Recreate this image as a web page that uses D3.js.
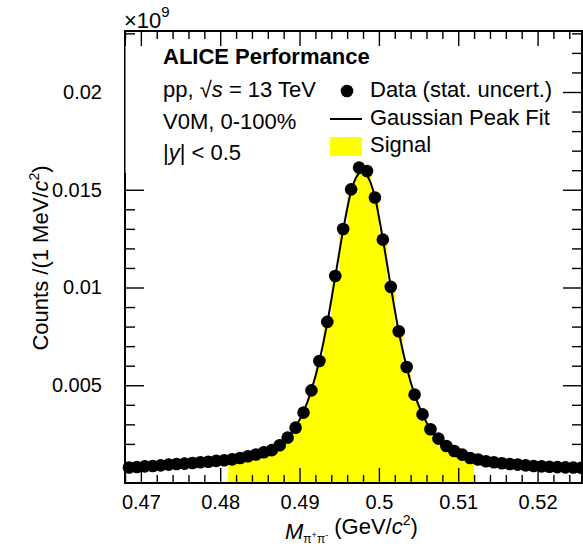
<!DOCTYPE html>
<html>
<head>
<meta charset="utf-8">
<script src="https://cdn.jsdelivr.net/npm/d3@7"></script>
<style>
  html, body { margin: 0; padding: 0; background: #fff; }
  svg { display: block; font-family: "Liberation Sans", Arial, Helvetica, sans-serif; }
</style>
</head>
<body>
<svg id="chart" width="583" height="547"></svg>
<script>
// Invariant-mass bin centres (GeV/c^2), 1 MeV bins
const massBins = [
  0.4685, 0.4695, 0.4705, 0.4715, 0.4725, 0.4735, 0.4745, 0.4755, 0.4765, 0.4775,
  0.4785, 0.4795, 0.4805, 0.4815, 0.4825, 0.4835, 0.4845, 0.4855, 0.4865, 0.4875,
  0.4885, 0.4895, 0.4905, 0.4915, 0.4925, 0.4935, 0.4945, 0.4955, 0.4965, 0.4975,
  0.4985, 0.4995, 0.5005, 0.5015, 0.5025, 0.5035, 0.5045, 0.5055, 0.5065, 0.5075,
  0.5085, 0.5095, 0.5105, 0.5115, 0.5125, 0.5135, 0.5145, 0.5155, 0.5165, 0.5175,
  0.5185, 0.5195, 0.5205, 0.5215, 0.5225, 0.5235, 0.5245, 0.5255
];
// Counts per bin (x10^9 units as labelled on the axis)
const counts = [
  0.00079, 0.00082, 0.00085, 0.00087, 0.00090, 0.00094, 0.00097, 0.00099, 0.00102, 0.00106,
  0.00109, 0.00113, 0.00116, 0.00121, 0.00128, 0.00137, 0.00146, 0.00157, 0.00168, 0.00193,
  0.00232, 0.00283, 0.00360, 0.00474, 0.00624, 0.00824, 0.01059, 0.01299, 0.01502, 0.01613,
  0.01596, 0.01460, 0.01245, 0.01003, 0.00776, 0.00593, 0.00452, 0.00351, 0.00275, 0.00227,
  0.00189, 0.00164, 0.00145, 0.00128, 0.00120, 0.00111, 0.00106, 0.00101, 0.00097, 0.00094,
  0.00090, 0.00087, 0.00085, 0.00083, 0.00081, 0.00080, 0.00079, 0.00078
];
// Fitted peak curve, sampled along the mass axis
const fitMass = [
  0.4685, 0.4725, 0.4765, 0.4795, 0.4815, 0.4835, 0.4850, 0.4865, 0.4875, 0.4885,
  0.4895, 0.4905, 0.4915, 0.4925, 0.4935, 0.4945, 0.4955, 0.4965, 0.4972, 0.4978,
  0.4985, 0.4995, 0.5005, 0.5015, 0.5025, 0.5035, 0.5045, 0.5055, 0.5065, 0.5075,
  0.5085, 0.5095, 0.5115, 0.5135, 0.5165, 0.5205, 0.5255
];
const fitValue = [
  0.00079, 0.00086, 0.00100, 0.00112, 0.00120, 0.00134, 0.00148, 0.00166, 0.00193, 0.00232,
  0.00288, 0.00364, 0.00475, 0.00625, 0.00820, 0.01055, 0.01295, 0.01492, 0.01568, 0.01590,
  0.01572, 0.01462, 0.01248, 0.01005, 0.00776, 0.00592, 0.00452, 0.00351, 0.00275, 0.00226,
  0.00189, 0.00163, 0.00128, 0.00111, 0.00097, 0.00085, 0.00078
];
// Signal integration window (GeV/c^2)
const signalRange = [0.481, 0.512];

// Axis ticks and labels
const xMajorTicks = [0.47, 0.48, 0.49, 0.50, 0.51, 0.52];
const xTickLabels = ["0.47", "0.48", "0.49", "0.5", "0.51", "0.52"];
const yMajorTicks = [0.005, 0.01, 0.015, 0.02];
const yTickLabels = ["0.005", "0.01", "0.015", "0.02"];

const frame = { left: 125, right: 582, top: 31, bottom: 483 };
const markerR = 6.3;

const svg = d3.select("#chart");

const x = d3.scaleLinear().domain([0.468, 0.5256]).range([frame.left, frame.right]);
const y = d3.scaleLinear().domain([0, 0.02312]).range([frame.bottom, frame.top]);

const binHalf = 0.0005;

// Signal: stepped histogram of the bins inside the window
const sigBins = massBins.map((m, i) => ({ m, v: counts[i] }))
  .filter(d => d.m > signalRange[0] && d.m < signalRange[1]);
const sigSteps = sigBins.map(d => ({ e: d.m - binHalf, v: d.v }));
sigSteps.push({ e: sigBins[sigBins.length - 1].m + binHalf, v: sigBins[sigBins.length - 1].v });

svg.append("path")
  .datum(sigSteps)
  .attr("fill", "#ffff00")
  .attr("stroke", "none")
  .attr("d", d3.area()
    .x(d => x(d.e))
    .y0(y(0))
    .y1(d => y(d.v))
    .curve(d3.curveStepAfter));

// Fit curve
const fitPts = fitMass.map((m, i) => [m, fitValue[i]]);
svg.append("path")
  .datum(fitPts)
  .attr("fill", "none")
  .attr("stroke", "#000")
  .attr("stroke-width", 2)
  .attr("d", d3.line().x(d => x(d[0])).y(d => y(d[1])).curve(d3.curveMonotoneX));

// Data points
svg.append("g").selectAll("circle")
  .data(massBins.map((m, i) => ({ m, v: counts[i] })))
  .join("circle")
  .attr("cx", d => x(d.m))
  .attr("cy", d => y(d.v))
  .attr("r", markerR)
  .attr("fill", "#000");

// Minor tick values
const xMinor = d3.range(0.468, 0.5261, 0.002).map(v => +v.toFixed(3))
  .filter(v => !xMajorTicks.some(t => Math.abs(t - v) < 1e-6));
const yMinor = d3.range(0.001, 0.0231, 0.001).map(v => +v.toFixed(3))
  .filter(v => !yMajorTicks.some(t => Math.abs(t - v) < 1e-6));

function styleAxis(g) {
  g.select(".domain").remove();
  g.selectAll("line").attr("stroke", "#000").attr("stroke-width", 1.4);
  g.selectAll("text").attr("fill", "#000").attr("font-family", "Liberation Sans, Arial, sans-serif");
}

// Bottom axis
svg.append("g").attr("transform", `translate(0,${frame.bottom})`)
  .call(d3.axisBottom(x).tickValues(xMajorTicks).tickSize(-15).tickPadding(12)
    .tickFormat((d, i) => xTickLabels[i]))
  .call(styleAxis)
  .call(g => g.selectAll("text").attr("font-size", 20));
svg.append("g").attr("transform", `translate(0,${frame.bottom})`)
  .call(d3.axisBottom(x).tickValues(xMinor).tickSize(-8).tickFormat(""))
  .call(styleAxis);

// Top axis
svg.append("g").attr("transform", `translate(0,${frame.top})`)
  .call(d3.axisTop(x).tickValues(xMajorTicks).tickSize(-15).tickFormat(""))
  .call(styleAxis);
svg.append("g").attr("transform", `translate(0,${frame.top})`)
  .call(d3.axisTop(x).tickValues(xMinor).tickSize(-8).tickFormat(""))
  .call(styleAxis);

// Left axis
svg.append("g").attr("transform", `translate(${frame.left},0)`)
  .call(d3.axisLeft(y).tickValues(yMajorTicks).tickSize(-19).tickPadding(23)
    .tickFormat((d, i) => yTickLabels[i]))
  .call(styleAxis)
  .call(g => g.selectAll("text").attr("font-size", 20));
svg.append("g").attr("transform", `translate(${frame.left},0)`)
  .call(d3.axisLeft(y).tickValues(yMinor).tickSize(-10).tickFormat(""))
  .call(styleAxis);

// Right axis
svg.append("g").attr("transform", `translate(${frame.right},0)`)
  .call(d3.axisRight(y).tickValues(yMajorTicks).tickSize(-19).tickFormat(""))
  .call(styleAxis);
svg.append("g").attr("transform", `translate(${frame.right},0)`)
  .call(d3.axisRight(y).tickValues(yMinor).tickSize(-10).tickFormat(""))
  .call(styleAxis);

// Frame
svg.append("rect")
  .attr("x", frame.left).attr("y", frame.top)
  .attr("width", frame.right - frame.left).attr("height", frame.bottom - frame.top)
  .attr("fill", "none").attr("stroke", "#000").attr("stroke-width", 2);

// Text box behind the header lines
svg.append("rect")
  .attr("x", frame.left + 0.5).attr("y", 46)
  .attr("width", 180).attr("height", 127)
  .attr("fill", "#fff");

// Exponent of the y axis
const expo = svg.append("text").attr("x", 124).attr("y", 28).attr("font-size", 22);
expo.append("tspan").text("×10");
expo.append("tspan").attr("font-size", 15).attr("dy", -11).text("9");

// Header lines
svg.append("text").attr("x", 163).attr("y", 64)
  .attr("font-size", 22).attr("font-weight", "bold").text("ALICE Performance");

const l2 = svg.append("text").attr("x", 163).attr("y", 97).attr("font-size", 22);
l2.append("tspan").text("pp, √");
l2.append("tspan").attr("font-style", "italic").text("s");
l2.append("tspan").text(" = 13 TeV");

svg.append("text").attr("x", 163).attr("y", 129).attr("font-size", 22).text("V0M, 0-100%");

const l4 = svg.append("text").attr("x", 163).attr("y", 160).attr("font-size", 22);
l4.append("tspan").text("|");
l4.append("tspan").attr("font-style", "italic").text("y");
l4.append("tspan").text("| < 0.5");

// Legend
const lg = svg.append("g");
lg.append("circle").attr("cx", 347).attr("cy", 91).attr("r", markerR).attr("fill", "#000");
lg.append("text").attr("x", 370).attr("y", 97).attr("font-size", 22).text("Data (stat. uncert.)");
lg.append("line").attr("x1", 330).attr("x2", 362).attr("y1", 119).attr("y2", 119)
  .attr("stroke", "#000").attr("stroke-width", 2);
lg.append("text").attr("x", 370).attr("y", 125).attr("font-size", 22).text("Gaussian Peak Fit");
lg.append("rect").attr("x", 330).attr("y", 137).attr("width", 32).attr("height", 19).attr("fill", "#ffff00");
lg.append("text").attr("x", 370).attr("y", 152).attr("font-size", 22).text("Signal");

// X axis title
const xt = svg.append("text").attr("x", 285).attr("y", 539).attr("font-size", 22);
xt.append("tspan").attr("font-style", "italic").text("M");
xt.append("tspan").attr("font-size", 12).attr("dy", 4).text("π");
xt.append("tspan").attr("font-size", 9).attr("dy", -5).text("+");
xt.append("tspan").attr("font-size", 12).attr("dy", 5).text("π");
xt.append("tspan").attr("font-size", 9).attr("dy", -5).text("-");
xt.append("tspan").attr("dy", -4).text(" (GeV/");
xt.append("tspan").attr("font-style", "italic").text("c");
xt.append("tspan").attr("font-size", 14).attr("dy", -9).text("2");
xt.append("tspan").attr("dy", 9).text(")");

// Y axis title
const yt = svg.append("text")
  .attr("transform", "translate(48,258) rotate(-90)")
  .attr("text-anchor", "middle").attr("font-size", 22);
yt.append("tspan").text("Counts /(1 MeV/");
yt.append("tspan").attr("font-style", "italic").text("c");
yt.append("tspan").attr("font-size", 14).attr("dy", -9).text("2");
yt.append("tspan").attr("dy", 9).text(")");
</script>
</body>
</html>
